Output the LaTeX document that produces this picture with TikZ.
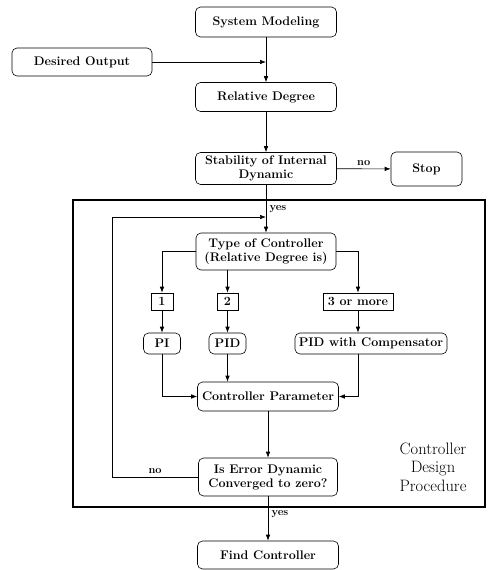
\documentclass[tikz,border=0pt]{standalone}
\usetikzlibrary{arrows.meta}
\tikzset{
  blk/.style={draw,rounded corners=5pt,align=center,inner sep=1pt,font=\fontsize{12.5}{14}\selectfont\bfseries},
  num/.style={draw,inner sep=1pt,minimum height=17pt,font=\fontsize{12.5}{14}\selectfont\bfseries},
  lnk/.style={-{Latex[length=6pt,width=4.5pt]}},
  lbl/.style={font=\fontsize{11}{13}\selectfont\bfseries}
}
\begin{document}
\begin{tikzpicture}[x=1pt,y=-1pt,line width=0.6pt]
    \useasboundingbox (0,0) rectangle (492,570);
    \node[blk,minimum width=141pt,minimum height=30pt] (sys) at (266,22) {System Modeling};
    \node[blk,minimum width=140pt,minimum height=28pt] (des) at (82,62) {Desired Output};
    \node[blk,minimum width=141pt,minimum height=29pt] (rel) at (266,97) {Relative Degree};
    \node[blk,minimum width=141pt,minimum height=32pt] (stab) at (266,168.5) {Stability of Internal\\Dynamic};
    \node[blk,minimum width=71pt,minimum height=34pt] (stop) at (426.5,169) {Stop};
    \node[blk,minimum width=140pt,minimum height=37pt] (type) at (266,251.5) {Type of Controller\\(Relative Degree is)};
    \node[num,minimum width=22pt] (one) at (162,301.5) {1};
    \node[num,minimum width=21pt] (two) at (227.5,301.5) {2};
    \node[num,minimum width=70pt] (three) at (358,301.5) {3 or more};
    \node[blk,minimum width=37pt,minimum height=21pt] (pi) at (162,343.5) {PI};
    \node[blk,minimum width=37pt,minimum height=21pt] (pid) at (227.5,343.5) {PID};
    \node[blk,minimum width=152pt,minimum height=21pt] (pidc) at (371,343.5) {PID with Compensator};
    \node[blk,minimum width=141pt,minimum height=29pt] (par) at (268,396.5) {Controller Parameter};
    \node[blk,minimum width=139pt,minimum height=38pt] (err) at (268,477) {Is Error Dynamic\\Converged to zero?};
    \node[blk,minimum width=141pt,minimum height=28pt] (find) at (268,555) {Find Controller};
    \node[align=center,font=\fontsize{16.5}{18.5}\selectfont] (cdp) at (433,467) {Controller\\Design\\Procedure};
    \draw[line width=1.3pt] (73,200) rectangle (485,507);
    \coordinate (j1) at (sys.south |- des.east);
    \coordinate (j2) at (266,217);
    \coordinate (lp) at (112,217);
    \draw (sys) -- (j1);
    \draw[lnk] (des) -- (j1);
    \draw[lnk] (j1) -- (rel);
    \draw[lnk] (rel) -- (stab);
    \draw[lnk] (stab) -- node[lbl,above] {no} (stop);
    \draw (stab) -- node[lbl,pos=0.75,right] {yes} (j2);
    \draw[lnk] (j2) -- (type);
    \draw[lnk] (type.west) -| (one.north);
    \draw[lnk] (two.north |- type.south) -- (two.north);
    \draw[lnk] (type.east) -| (three.north);
    \draw[lnk] (one) -- (pi);
    \draw[lnk] (two) -- (pid);
    \draw[lnk] (three.south) -- (three.south |- pidc.north);
    \draw[lnk] (pi) |- (par.west);
    \draw[lnk] (pid) -- (pid |- par.north);
    \draw[lnk] (three.south |- pidc.south) |- (par.east);
    \draw[lnk] (par) -- (err);
    \draw[lnk] (err.west) -- node[lbl,above,pos=0.5] {no} (lp |- err.west) -- (lp) -- (j2);
    \draw[lnk] (err) -- node[lbl,right,pos=0.4] {yes} (find);
\end{tikzpicture}
\end{document}
